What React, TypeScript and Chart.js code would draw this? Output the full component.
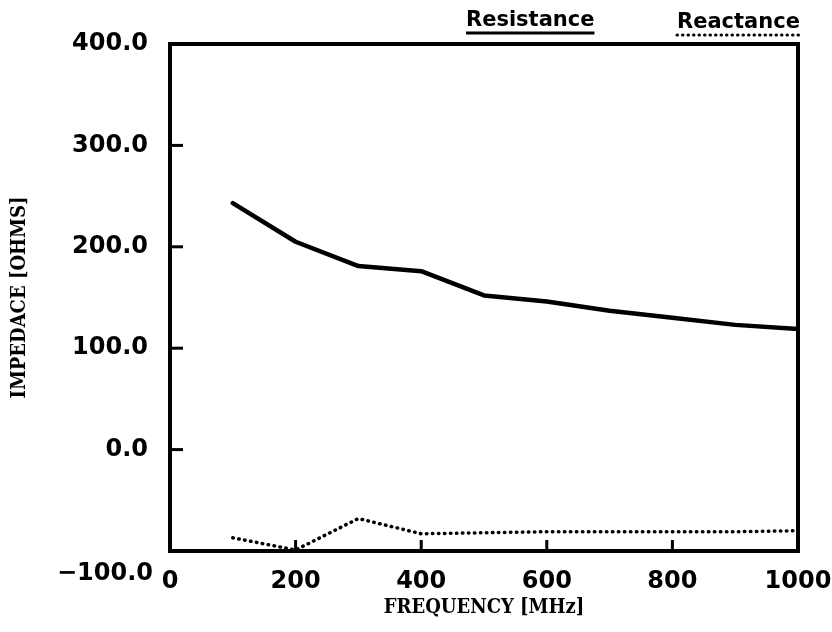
import React, { useEffect, useRef } from "react";
import { Chart, registerables } from "chart.js";

Chart.register(...registerables);

// ---- data ----
const frequencies = [100, 200, 300, 400, 500, 600, 700, 800, 900, 1000];
const resistance = [243, 205, 181, 176, 152, 146, 137, 130, 123, 119];
const reactance = [-87, -99, -68, -83, -82, -81, -81, -81, -81, -80];
const yTickValues = [-100, 0, 100, 200, 300, 400];
const xTickValues = [0, 200, 400, 600, 800, 1000];
const seriesNames = ["Resistance", "Reactance"];
const xTitle = "FREQUENCY [MHz]";
const yTitle = "IMPEDACE [OHMS]";

const TICK_FONT = { family: "'DejaVu Sans', sans-serif", size: 24, weight: "bold" as const };
const TITLE_FONT = { family: "'DejaVu Serif Condensed', 'Liberation Serif', serif", size: 20, weight: "bold" as const };

const framePlugin = {
  id: "frameAndLegend",
  afterDraw(chart: any) {
    const ctx: CanvasRenderingContext2D = chart.ctx;
    const { left, right, top, bottom } = chart.chartArea;
    const xs = chart.scales.x;
    const ys = chart.scales.y;
    ctx.save();
    ctx.strokeStyle = "#000";
    ctx.fillStyle = "#000";
    // frame
    ctx.lineWidth = 4;
    ctx.lineJoin = "miter";
    ctx.strokeRect(left, top, right - left, bottom - top);
    // inward tick marks
    ctx.lineWidth = 3;
    ctx.lineCap = "butt";
    yTickValues.forEach((v) => {
      if (v === yTickValues[0] || v === yTickValues[yTickValues.length - 1]) return;
      const py = ys.getPixelForValue(v);
      ctx.beginPath();
      ctx.moveTo(left, py);
      ctx.lineTo(left + 13, py);
      ctx.stroke();
    });
    xTickValues.forEach((v) => {
      if (v === xTickValues[0] || v === xTickValues[xTickValues.length - 1]) return;
      const px = xs.getPixelForValue(v);
      ctx.beginPath();
      ctx.moveTo(px, bottom);
      ctx.lineTo(px, bottom - 11);
      ctx.stroke();
    });
    // lowest y label sits below the frame corner
    ctx.font = `bold ${TICK_FONT.size}px ${TICK_FONT.family}`;
    ctx.textAlign = "right";
    ctx.textBaseline = "middle";
    ctx.fillText(yTickValues[0].toFixed(1).replace("-", "\u2212"), left - 17, ys.getPixelForValue(yTickValues[0]) + 23);

    // legend: text with line sample underneath
    ctx.font = "bold 21px 'DejaVu Sans', sans-serif";
    ctx.textAlign = "left";
    ctx.textBaseline = "alphabetic";
    const items = [
      { x: 466, y: 26, dashed: false },
      { x: 677, y: 28, dashed: true },
    ];
    items.forEach((it, i) => {
      const name = seriesNames[i];
      const w = ctx.measureText(name).width;
      ctx.fillText(name, it.x, it.y);
      ctx.beginPath();
      ctx.lineWidth = 3;
      ctx.lineCap = it.dashed ? "round" : "butt";
      ctx.setLineDash(it.dashed ? [0.5, 5] : []);
      ctx.moveTo(it.x, it.y + 7);
      ctx.lineTo(it.x + w, it.y + 7);
      ctx.stroke();
      ctx.setLineDash([]);
    });
    ctx.restore();
  },
};

export default function App() {
  const ref = useRef<HTMLCanvasElement>(null);
  useEffect(() => {
    if (!ref.current) return;
    const chart = new Chart(ref.current, {
      type: "line",
      data: {
        datasets: [
          {
            label: seriesNames[0],
            data: frequencies.map((f, i) => ({ x: f, y: resistance[i] })),
            borderColor: "#000",
            borderWidth: 4.5,
            borderJoinStyle: "round",
            borderCapStyle: "round",
            pointRadius: 0,
            tension: 0,
            fill: false,
          },
          {
            label: seriesNames[1],
            data: frequencies.map((f, i) => ({ x: f, y: reactance[i] })),
            borderColor: "#000",
            borderWidth: 3.5,
            borderDash: [0.5, 5.5],
            borderCapStyle: "round",
            pointRadius: 0,
            tension: 0,
            fill: false,
          },
        ],
      },
      options: {
        responsive: false,
        animation: false,
        layout: { padding: { top: 44, right: 34, left: 0, bottom: 0 } },
        plugins: { legend: { display: false }, tooltip: { enabled: false } },
        scales: {
          x: {
            type: "linear",
            min: xTickValues[0],
            max: xTickValues[xTickValues.length - 1],
            afterBuildTicks: (s: any) => {
              s.ticks = xTickValues.map((v) => ({ value: v }));
            },
            afterFit: (s: any) => {
              s.height = 81;
              s.paddingLeft = 0;
              s.paddingRight = 0;
            },
            grid: { display: false },
            border: { display: false },
            ticks: {
              color: "#000",
              font: TICK_FONT,
              padding: 8,
              maxRotation: 0,
              callback: (v: any) => String(v),
            },
            title: {
              display: true,
              text: xTitle,
              color: "#000",
              font: TITLE_FONT,
              padding: { top: 0, bottom: 12 },
            },
          },
          y: {
            type: "linear",
            min: yTickValues[0],
            max: yTickValues[yTickValues.length - 1],
            afterBuildTicks: (s: any) => {
              s.ticks = yTickValues.map((v) => ({ value: v }));
            },
            afterFit: (s: any) => {
              s.width = 170;
              s.paddingTop = 0;
              s.paddingBottom = 0;
            },
            grid: { display: false },
            border: { display: false },
            ticks: {
              color: "#000",
              font: TICK_FONT,
              padding: 14,
              callback: (v: any) => (v === yTickValues[0] ? "" : Number(v).toFixed(1)),
            },
            title: {
              display: true,
              text: yTitle,
              color: "#000",
              font: TITLE_FONT,
              padding: { top: 8, bottom: 0 },
            },
          },
        },
      },
      plugins: [framePlugin],
    });
    return () => chart.destroy();
  }, []);
  return (
    <div style={{ position: "absolute", left: 0, top: 0, width: 832, height: 632, background: "#fff" }}>
      <canvas ref={ref} width={832} height={632} style={{ display: "block" }} />
    </div>
  );
}
